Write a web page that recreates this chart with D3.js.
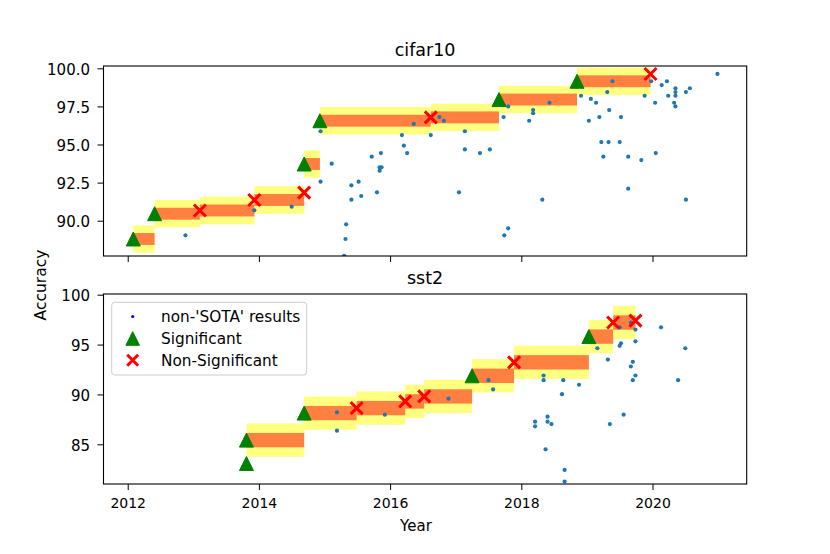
<!DOCTYPE html>
<html><head><meta charset="utf-8">
<script src="https://cdn.jsdelivr.net/npm/d3@7"></script>
<style>
body{margin:0;background:#fff}
svg{display:block}
text{font-family:"DejaVu Sans",sans-serif;fill:#000}
</style>
</head><body>
<svg id="chart" width="830" height="554"></svg>
<script>
// ---------------- data ----------------
const xTickYears = [2012, 2014, 2016, 2018, 2020];

// cifar10
const cifarTicks = [90, 92.5, 95, 97.5, 100];
const cifarSotaYear = [2012.085, 2012.41, 2013.10, 2013.93, 2014.69, 2014.69, 2014.93, 2016.62, 2017.66, 2018.85, 2019.97];
const cifarSotaAcc  = [88.80, 90.46, 90.67, 91.36, 91.84, 93.72, 96.56, 96.78, 97.95, 99.15, 99.63];
const cifarSotaSig  = [true, true, false, false, false, true, true, false, true, true, false];
const cifarInner = 0.39;
const cifarOuter = 0.90;
const cifarOtherYear = [2012.88, 2013.93, 2014.50, 2014.94, 2014.94, 2015.11, 2015.33, 2015.32, 2015.30, 2015.41, 2015.41, 2015.52, 2015.56, 2015.72, 2015.86, 2015.84, 2015.87, 2015.84, 2015.80, 2016.18, 2016.21, 2016.26, 2016.36, 2016.62, 2016.75, 2016.82, 2017.05, 2017.14, 2017.14, 2017.37, 2017.52, 2017.73, 2017.80, 2017.74, 2017.80, 2018.12, 2018.18, 2018.18, 2018.32, 2018.43, 2018.91, 2019.03, 2019.06, 2019.14, 2019.19, 2019.22, 2019.25, 2019.31, 2019.33, 2019.34, 2019.39, 2019.50, 2019.52, 2019.63, 2019.63, 2019.83, 2019.88, 2019.98, 2020.04, 2020.05, 2020.14, 2020.22, 2020.24, 2020.35, 2020.35, 2020.35, 2020.33, 2020.35, 2020.51, 2020.57, 2020.51, 2020.99];
const cifarOtherAcc  = [89.04, 90.68, 90.92, 95.87, 92.56, 93.74, 89.76, 88.80, 87.70, 92.32, 91.38, 92.56, 91.62, 94.20, 94.44, 93.50, 93.50, 93.28, 91.86, 95.62, 94.92, 94.44, 96.35, 95.62, 96.80, 96.56, 91.86, 95.87, 94.68, 94.44, 94.68, 96.80, 97.50, 89.04, 89.50, 96.56, 97.26, 97.05, 91.38, 97.74, 98.20, 96.56, 97.99, 97.74, 96.80, 95.16, 94.20, 98.44, 95.16, 97.26, 99.15, 95.16, 96.80, 94.20, 92.10, 93.98, 98.20, 99.15, 97.74, 94.44, 98.90, 99.15, 98.20, 98.69, 98.44, 98.20, 97.74, 97.50, 98.44, 98.69, 91.38, 99.63];

// sst2
const sstTicks = [85, 90, 95, 100];
const sstSotaYear = [2013.81, 2013.81, 2014.69, 2015.49, 2016.23, 2016.52, 2017.25, 2017.89, 2019.03, 2019.40, 2019.74];
const sstSotaAcc  = [83.07, 85.42, 88.13, 88.63, 89.30, 89.80, 91.87, 93.22, 95.80, 97.21, 97.40];
const sstSotaSig  = [true, true, true, false, false, false, true, false, true, false, false];
const sstInner = 0.72;
const sstOuter = 1.67;
const sstOtherYear = [2015.19, 2015.19, 2015.92, 2016.89, 2017.50, 2017.57, 2018.21, 2018.21, 2018.34, 2018.34, 2018.37, 2018.40, 2018.40, 2018.46, 2018.62, 2018.64, 2018.66, 2018.66, 2018.88, 2019.16, 2019.32, 2019.35, 2019.50, 2019.50, 2019.52, 2019.56, 2019.67, 2019.70, 2019.70, 2019.74, 2019.74, 2019.74, 2019.67, 2020.13, 2020.39, 2020.50];
const sstOtherAcc  = [88.20, 86.37, 87.97, 89.57, 91.43, 90.50, 87.27, 86.80, 91.90, 91.43, 84.50, 87.77, 87.27, 87.03, 90.03, 91.43, 82.43, 81.27, 90.97, 94.63, 93.50, 87.03, 96.73, 94.87, 95.13, 87.97, 92.80, 93.27, 91.43, 91.90, 95.33, 96.50, 97.20, 96.73, 91.43, 94.63];

const legendLabels = ["non-'SOTA' results", "Significant", "Non-Significant"];

// ---------------- layout ----------------
const svg = d3.select("#chart");
const L = 103.5, R = 746.7;
const x = d3.scaleLinear().domain([2011.631, 2021.436]).range([L, R]);

const panels = [
  {id:"c", title:"cifar10", top:66, bottom:256, domain:[87.684, 100.151], ticks:cifarTicks, fmt:d3.format(".1f"),
   sy:cifarSotaYear, sa:cifarSotaAcc, sig:cifarSotaSig, inner:cifarInner, outer:cifarOuter,
   oy:cifarOtherYear, oa:cifarOtherAcc, xlabels:false},
  {id:"s", title:"sst2", top:294, bottom:484, domain:[81.02, 100.07], ticks:sstTicks, fmt:d3.format("d"),
   sy:sstSotaYear, sa:sstSotaAcc, sig:sstSotaSig, inner:sstInner, outer:sstOuter,
   oy:sstOtherYear, oa:sstOtherAcc, xlabels:true}
];

const YELLOW = "#ffff80", ORANGE = "#ff8040", BLUE = "#1f77b4", GREEN = "#008000", RED = "#ff0000";

function triPath(cx, cy, s){ return `M${cx},${cy-s}L${cx+s},${cy+s}L${cx-s},${cy+s}Z`; }
function xPath(cx, cy, s){ return `M${cx-s},${cy-s}L${cx+s},${cy+s}M${cx-s},${cy+s}L${cx+s},${cy-s}`; }

panels.forEach(p => {
  const y = d3.scaleLinear().domain(p.domain).range([p.bottom, p.top]);
  const defs = svg.append("defs");
  defs.append("clipPath").attr("id","clip"+p.id).append("rect")
    .attr("x", L).attr("y", p.top).attr("width", R-L).attr("height", p.bottom-p.top);
  const g = svg.append("g").attr("clip-path", `url(#clip${p.id})`);

  const n = p.sy.length;
  const segs = d3.range(n-1).map(i => ({x0:p.sy[i], x1:p.sy[i+1], a:p.sa[i]}));
  g.selectAll(".yb").data(segs).join("rect")
    .attr("x", d => x(d.x0)).attr("width", d => Math.max(0, x(d.x1)-x(d.x0)))
    .attr("y", d => y(d.a + p.outer)).attr("height", d => y(d.a - p.outer) - y(d.a + p.outer))
    .attr("fill", YELLOW);
  g.selectAll(".ob").data(segs).join("rect")
    .attr("x", d => x(d.x0)).attr("width", d => Math.max(0, x(d.x1)-x(d.x0)))
    .attr("y", d => y(d.a + p.inner)).attr("height", d => y(d.a - p.inner) - y(d.a + p.inner))
    .attr("fill", ORANGE);

  const others = p.oy.map((v,i) => ({yr:v, a:p.oa[i]}));
  g.selectAll(".dot").data(others).join("circle")
    .attr("cx", d => x(d.yr)).attr("cy", d => y(d.a)).attr("r", 2.1).attr("fill", BLUE);

  const sota = p.sy.map((v,i) => ({yr:v, a:p.sa[i], sig:p.sig[i]}));
  g.selectAll(".tri").data(sota.filter(d => d.sig)).join("path")
    .attr("d", d => triPath(x(d.yr), y(d.a), 7)).attr("fill", GREEN).attr("stroke", GREEN).attr("stroke-width", 1);
  g.selectAll(".xm").data(sota.filter(d => !d.sig)).join("path")
    .attr("d", d => xPath(x(d.yr), y(d.a), 6)).attr("fill", "none").attr("stroke", RED).attr("stroke-width", 3);

  // axes
  const ya = d3.axisLeft(y).tickValues(p.ticks).tickFormat(p.fmt).tickSize(6).tickPadding(7.5);
  const yg = svg.append("g").attr("transform", `translate(${L},0)`).call(ya);
  yg.select(".domain").remove();
  yg.selectAll("text").style("font-size","15px").attr("dy","0.4em");
  yg.selectAll("line").attr("stroke","#000");

  const xa = d3.axisBottom(x).tickValues(xTickYears).tickFormat(d3.format("d")).tickSize(6).tickPadding(5);
  const xg = svg.append("g").attr("transform", `translate(0,${p.bottom})`).call(xa);
  xg.select(".domain").remove();
  xg.selectAll("line").attr("stroke","#000");
  if (p.xlabels) xg.selectAll("text").style("font-size","14px").attr("dy","0.95em");
  else xg.selectAll("text").remove();

  svg.append("rect").attr("x", L).attr("y", p.top).attr("width", R-L).attr("height", p.bottom-p.top)
    .attr("fill","none").attr("stroke","#000").attr("stroke-width",1.1);

  svg.append("text").attr("x", (L+R)/2).attr("y", p.top-10).attr("text-anchor","middle")
    .style("font-size","17.5px").text(p.title);
});

// axis labels
svg.append("text").attr("transform","translate(46,285) rotate(-90)").attr("text-anchor","middle")
  .style("font-size","15.5px").text("Accuracy");
svg.append("text").attr("x",416).attr("y",531).attr("text-anchor","middle")
  .style("font-size","15px").text("Year");

// legend
const lg = svg.append("g");
lg.append("rect").attr("x",111.7).attr("y",302.3).attr("width",195).attr("height",72.7).attr("rx",3)
  .attr("fill","#fff").attr("fill-opacity",0.8).attr("stroke","#cccccc").attr("stroke-width",1);
const ly = [316.5, 338.5, 360.3];
lg.append("circle").attr("cx",132.7).attr("cy",ly[0]).attr("r",1.6).attr("fill","#0000ff");
lg.append("path").attr("d", triPath(132.7, ly[1], 6.8)).attr("fill",GREEN).attr("stroke",GREEN);
lg.append("path").attr("d", xPath(132.7, ly[2], 5.5)).attr("fill","none").attr("stroke",RED).attr("stroke-width",3);
legendLabels.forEach((t,i) => {
  lg.append("text").attr("x",161).attr("y",ly[i]+5.3).style("font-size","15.3px").text(t);
});
</script>
</body></html>
